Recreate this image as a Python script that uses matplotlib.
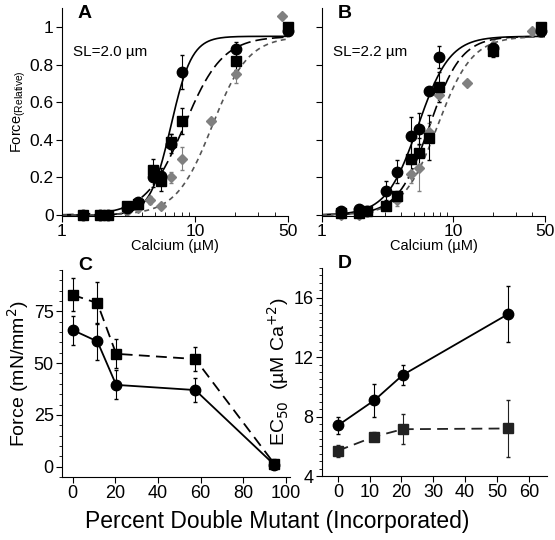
import numpy as np
import matplotlib
matplotlib.use('Agg')
import matplotlib.pyplot as plt
from matplotlib.ticker import FixedLocator, LogLocator, MultipleLocator, NullFormatter

plt.rcParams['font.family'] = ['Liberation Sans', 'DejaVu Sans']

# Panel A (SL = 2.0 um): calcium (uM) and relative force
a_ca = [1.43, 1.93, 2.22, 3.07, 3.73, 4.85, 5.55, 6.6, 7.97, 20.4, 50]
a_circle = [0.0, 0.0, 0.0, 0.04, 0.07, 0.20, 0.21, 0.38, 0.76, 0.88, 0.98]
a_circle_err = [0.0, 0.0, 0.0, 0.01, 0.02, 0.05, 0.04, 0.05, 0.09, 0.04, 0.02]
a_square = [0.0, 0.0, 0.0, 0.05, 0.06, 0.24, 0.18, 0.39, 0.50, 0.82, 1.0]
a_square_err = [0.0, 0.0, 0.0, 0.01, 0.02, 0.06, 0.05, 0.04, 0.07, 0.05, 0.02]
a_diamond_ca = [2.22, 3.07, 3.73, 4.6, 5.55, 6.6, 7.97, 13.2, 20.4, 45]
a_diamond = [0.0, 0.02, 0.04, 0.08, 0.05, 0.20, 0.30, 0.50, 0.75, 1.06]
a_diamond_err = [0.0, 0.01, 0.01, 0.02, 0.01, 0.03, 0.06, 0.0, 0.05, 0.0]

# Panel B (SL = 2.2 um)
b_ca = [1.41, 1.91, 2.22, 3.07, 3.71, 4.8, 5.46, 6.5, 7.8, 20, 47]
b_circle = [0.02, 0.03, 0.02, 0.13, 0.23, 0.42, 0.46, 0.66, 0.84, 0.89, 0.98]
b_circle_err = [0.0, 0.0, 0.0, 0.05, 0.06, 0.10, 0.08, 0.0, 0.06, 0.03, 0.0]
b_square = [0.01, 0.01, 0.02, 0.05, 0.10, 0.30, 0.33, 0.41, 0.68, 0.87, 1.0]
b_square_err = [0.0, 0.0, 0.0, 0.02, 0.03, 0.10, 0.08, 0.12, 0.08, 0.03, 0.0]
b_diamond_ca = [1.41, 1.91, 2.22, 3.07, 3.71, 4.8, 5.46, 6.5, 7.8, 12.7, 20, 40]
b_diamond = [0.0, 0.0, 0.02, 0.05, 0.08, 0.22, 0.25, 0.44, 0.64, 0.70, 0.90, 0.98]
b_diamond_err = [0.0, 0.0, 0.0, 0.02, 0.03, 0.05, 0.12, 0.05, 0.04, 0.0, 0.03, 0.0]

# Hill fit parameters: [circle, square, diamond]
a_ec50 = [6.6, 8.3, 13.5]
a_hill = [5.5, 3.0, 3.2]
b_ec50 = [5.4, 6.6, 7.6]
b_hill = [3.6, 3.6, 3.3]
fmax = 0.95

# Panel C: maximal force vs percent double mutant
c_pct = [0, 11.6, 20.4, 57.5, 94.5]
c_circle = [66, 60.5, 39.5, 37, 1]
c_circle_err = [7, 9, 7, 6, 2]
c_square = [83, 79, 54.5, 52, 1.5]
c_square_err = [8, 10, 7, 6, 2]

# Panel D: EC50 vs percent double mutant
d_pct = [0, 11.5, 20.4, 53.5]
d_circle = [7.4, 9.1, 10.8, 14.9]
d_circle_err = [0.6, 1.1, 0.7, 1.9]
d_square = [5.7, 6.65, 7.15, 7.2]
d_square_err = [0.4, 0.3, 1.0, 1.9]

grey = '#808080'


def hill(ca, ec50, n):
    return fmax * ca ** n / (ca ** n + ec50 ** n)


def calcium_panel(ax, ca, circ, circ_e, sq, sq_e, dca, dia, dia_e, ec50, nh, letter, sl, ylabels):
    xs = np.logspace(0, np.log10(50), 300)
    ax.plot(xs, hill(xs, ec50[0], nh[0]), color='black', lw=1.2)
    ax.plot(xs, hill(xs, ec50[1], nh[1]), color='black', lw=1.2, dashes=(7, 3))
    ax.plot(xs, hill(xs, ec50[2], nh[2]), color='#555555', lw=1.2, dashes=(3, 2.5))
    ax.errorbar(dca, dia, yerr=dia_e, fmt='D', color=grey, ms=5.5, capsize=1.5, elinewidth=0.8, clip_on=False)
    ax.errorbar(ca, sq, yerr=sq_e, fmt='s', color='black', ms=7.5, capsize=1.5, elinewidth=0.8, clip_on=False)
    ax.errorbar(ca, circ, yerr=circ_e, fmt='o', color='black', ms=7.5, capsize=1.5, elinewidth=0.8, clip_on=False)
    ax.set_xscale('log')
    ax.set_xlim(1, 50)
    ax.set_ylim(-0.005, 1.1)
    ax.xaxis.set_major_locator(FixedLocator([1, 10, 50]))
    ax.set_xticklabels(['1', '10', '50'])
    ax.xaxis.set_minor_locator(LogLocator(base=10, subs=np.arange(2, 10)))
    ax.xaxis.set_minor_formatter(NullFormatter())
    ax.tick_params(axis='x', which='minor', direction='in', length=3)
    ax.tick_params(axis='both', which='major', direction='out', length=4, labelsize=12.5, pad=2)
    ax.set_yticks([0, 0.2, 0.4, 0.6, 0.8, 1])
    if ylabels:
        ax.set_yticklabels(['0', '0.2', '0.4', '0.6', '0.8', '1'])
        ax.set_ylabel(r'Force$_{\mathregular{(Relative)}}$', fontsize=10.5, labelpad=1)
    else:
        ax.set_yticklabels([])
    ax.set_xlabel('Calcium (\u00b5M)', fontsize=10.5, labelpad=0)
    ax.spines['top'].set_visible(False)
    ax.spines['right'].set_visible(False)
    ax.text(0.07, 0.975, letter, transform=ax.transAxes, fontsize=14, fontweight='bold', va='center')
    ax.text(0.05, 0.79, sl, transform=ax.transAxes, fontsize=11, va='center')


fig = plt.figure(figsize=(5.55, 5.4), dpi=100)
ax_a = fig.add_axes([0.1117, 0.6, 0.407, 0.385])
ax_b = fig.add_axes([0.580, 0.6, 0.402, 0.385])
ax_c = fig.add_axes([0.1117, 0.1167, 0.411, 0.3833])
ax_d = fig.add_axes([0.580, 0.1185, 0.4056, 0.3852])

calcium_panel(ax_a, a_ca, a_circle, a_circle_err, a_square, a_square_err,
              a_diamond_ca, a_diamond, a_diamond_err, a_ec50, a_hill, 'A', 'SL=2.0 \u00b5m', True)
calcium_panel(ax_b, b_ca, b_circle, b_circle_err, b_square, b_square_err,
              b_diamond_ca, b_diamond, b_diamond_err, b_ec50, b_hill, 'B', 'SL=2.2 \u00b5m', False)

# Panel C
ax_c.errorbar(c_pct, c_square, yerr=c_square_err, fmt='s', ls=(0, (6, 3.5)), color='black', lw=1.3,
              ms=7.5, capsize=1.5, elinewidth=0.8, clip_on=False)
ax_c.errorbar(c_pct, c_circle, yerr=c_circle_err, fmt='o-', color='black', lw=1.3,
              ms=7.5, capsize=1.5, elinewidth=0.8, clip_on=False)
ax_c.set_xlim(-5, 102)
ax_c.set_ylim(-5, 95)
ax_c.set_xticks([0, 20, 40, 60, 80, 100])
ax_c.set_yticks([0, 25, 50, 75])
ax_c.yaxis.set_minor_locator(MultipleLocator(5))
ax_c.set_ylabel('Force (mN/mm$^2$)', fontsize=14, labelpad=2)

# Panel D
ax_d.errorbar(d_pct, d_square, yerr=d_square_err, fmt='s', ls=(0, (6, 3.5)), color='#222222', lw=1.3,
              ms=7.5, capsize=1.5, elinewidth=0.8, clip_on=False)
ax_d.errorbar(d_pct, d_circle, yerr=d_circle_err, fmt='o-', color='black', lw=1.3,
              ms=7.5, capsize=1.5, elinewidth=0.8, clip_on=False)
ax_d.set_xlim(-5, 65.7)
ax_d.set_ylim(4, 18)
ax_d.set_xticks([0, 10, 20, 30, 40, 50, 60])
ax_d.set_yticks([4, 8, 12, 16])
ax_d.yaxis.set_minor_locator(MultipleLocator(0.5))
ax_d.set_ylabel('EC$_{50}$  (\u00b5M Ca$^{+2}$)', fontsize=14, labelpad=2)

for ax, letter in [(ax_c, 'C'), (ax_d, 'D')]:
    ax.spines['top'].set_visible(False)
    ax.spines['right'].set_visible(False)
    ax.tick_params(axis='both', which='major', direction='out', length=4, labelsize=13, pad=2)
    ax.tick_params(axis='y', which='minor', direction='out', length=2.5)
    ax.text(0.07, 1.02, letter, transform=ax.transAxes, fontsize=14, fontweight='bold', va='center')

fig.text(0.5, 0.035, 'Percent Double Mutant (Incorporated)', fontsize=16.5, ha='center', va='center')

fig.savefig('out.png', dpi=100)
